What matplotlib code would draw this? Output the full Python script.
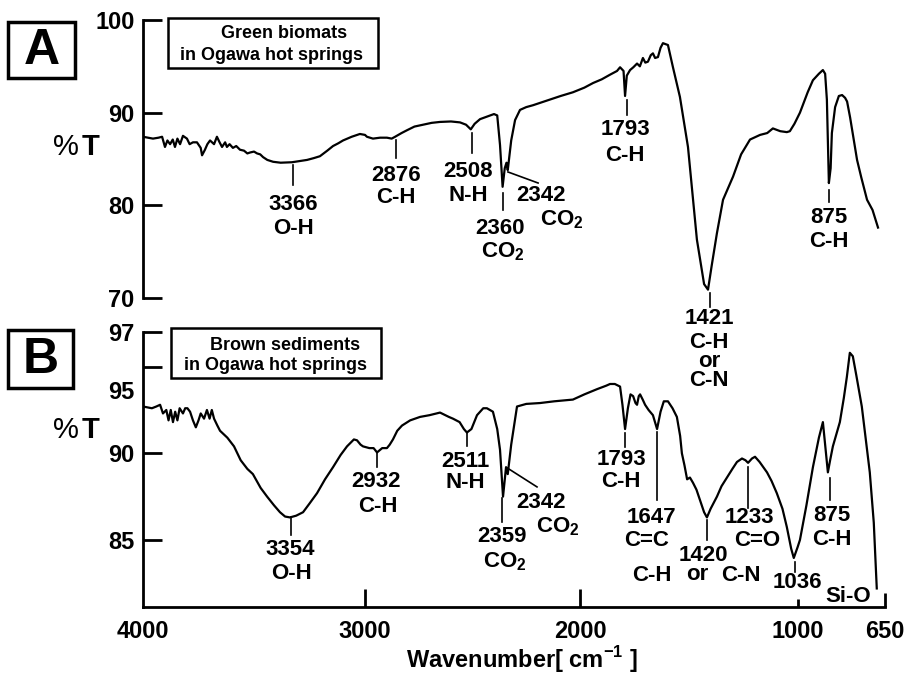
import numpy as np
import matplotlib.pyplot as plt
from matplotlib.patches import Rectangle
from matplotlib.transforms import ScaledTranslation

plt.rcParams['font.family'] = ['Liberation Sans', 'DejaVu Sans']
plt.rcParams['mathtext.fontset'] = 'custom'
plt.rcParams['mathtext.rm'] = 'Liberation Sans'
plt.rcParams['mathtext.bf'] = 'Liberation Sans:bold'

# ---- spectrum A: green biomats (wavenumber, %T) ----
WN_A = [4000, 3955, 3930, 3914, 3901, 3890, 3878, 3866, 3856, 3845, 3833, 3820,
        3802, 3790, 3775, 3757, 3740, 3734, 3721, 3710, 3698, 3680, 3667, 3655,
        3644, 3630, 3622, 3610, 3595, 3580, 3563, 3545, 3530, 3518, 3500, 3486,
        3472, 3459, 3440, 3414, 3380, 3329, 3290, 3261, 3230, 3203, 3170, 3144,
        3120, 3099, 3060, 3023, 3000, 2991, 2963, 2930, 2898, 2876, 2860, 2830,
        2805, 2770, 2730, 2690, 2651, 2600, 2558, 2530, 2508, 2490, 2465, 2430,
        2400, 2385, 2372, 2360, 2350, 2342, 2336, 2320, 2302, 2279, 2250, 2219,
        2180, 2140, 2090, 2033, 1980, 1940, 1900, 1862, 1830, 1816, 1800, 1793,
        1785, 1770, 1755, 1738, 1725, 1711, 1700, 1688, 1675, 1665, 1655, 1642,
        1630, 1619, 1596, 1573, 1541, 1504, 1463, 1430, 1412, 1395, 1371, 1343,
        1297, 1260, 1219, 1173, 1140, 1114, 1080, 1050, 1036, 1015, 991, 960,
        939, 915, 899, 890, 883, 875, 868, 863, 850, 835, 822, 810, 802, 790,
        762, 745, 722, 700, 678]
T_A = [87.4, 87.2, 87.3, 87.4, 86.3, 87.0, 86.6, 87.1, 86.3, 87.2, 86.6, 87.5,
       87.2, 86.6, 86.8, 86.8, 86.2, 85.4, 86.0, 86.6, 87.0, 86.6, 87.4, 86.8,
       86.3, 86.8, 86.3, 86.6, 86.2, 86.4, 86.0, 85.9, 85.6, 85.7, 85.8, 85.6,
       85.5, 85.2, 84.9, 84.7, 84.6, 84.65, 84.8, 84.9, 85.1, 85.3, 85.9, 86.4,
       86.7, 87.0, 87.4, 87.7, 87.6, 87.4, 87.2, 87.3, 87.3, 87.2, 87.4, 87.8,
       88.1, 88.5, 88.7, 88.9, 89.0, 89.05, 88.95, 88.7, 88.2, 88.8, 89.3, 89.6,
       89.85, 89.7, 86.5, 82.0, 84.0, 84.6, 83.8, 87.0, 89.2, 90.3, 90.6, 90.8,
       91.1, 91.4, 91.8, 92.2, 92.7, 93.2, 93.6, 94.1, 94.5, 94.9, 94.5, 91.8,
       94.0, 94.6, 94.9, 95.3, 95.0, 95.9, 95.4, 95.5, 96.2, 96.4, 95.9, 96.0,
       97.0, 97.5, 97.3, 94.9, 91.7, 86.3, 76.3, 71.5, 70.9, 73.5, 77.0, 80.6,
       83.1, 85.5, 87.1, 87.6, 87.8, 88.3, 88.0, 87.9, 88.0, 88.8, 90.0, 92.2,
       93.5, 94.2, 94.6, 94.2, 91.4, 82.4, 84.0, 87.8, 90.6, 91.8, 91.9, 91.6, 91.2, 89.5,
       84.9, 83.0, 80.6, 79.5, 77.6]

# ---- spectrum B: brown sediments ----
WN_B = [4000, 3960, 3940, 3923, 3910, 3895, 3885, 3875, 3865, 3855, 3845, 3835,
        3820, 3810, 3800, 3788, 3775, 3762, 3750, 3740, 3725, 3712, 3700, 3690,
        3680, 3665, 3653, 3620, 3590, 3560, 3530, 3505, 3470, 3441, 3410, 3383,
        3360, 3338, 3310, 3279, 3250, 3216, 3180, 3144, 3110, 3081, 3050, 3036,
        3020, 3009, 2980, 2960, 2944, 2920, 2898, 2885, 2870, 2850, 2828, 2790,
        2744, 2700, 2651, 2610, 2591, 2560, 2540, 2526, 2505, 2479, 2450, 2433,
        2405, 2385, 2372, 2358, 2350, 2344, 2336, 2320, 2293, 2250, 2186, 2120,
        2033, 1980, 1922, 1880, 1862, 1840, 1816, 1805, 1793, 1780, 1768, 1756,
        1745, 1738, 1730, 1724, 1712, 1701, 1685, 1665, 1646, 1630, 1615, 1596,
        1575, 1555, 1540, 1532, 1520, 1508, 1495, 1481, 1465, 1449, 1430, 1417,
        1400, 1371, 1350, 1325, 1300, 1279, 1256, 1240, 1228, 1210, 1196, 1175,
        1141, 1120, 1096, 1070, 1050, 1030, 1018, 1000, 991, 965, 939, 915, 899,
        890, 879, 870, 859, 831, 815, 803, 791, 779, 765, 743, 711, 695, 683]
T_B = [92.7, 92.6, 92.7, 92.8, 92.3, 92.5, 91.9, 92.5, 91.8, 92.4, 91.9, 92.6,
       92.3, 92.6, 92.6, 92.4, 91.9, 91.5, 91.9, 92.3, 92.0, 92.5, 92.0, 92.5,
       92.0, 91.6, 91.3, 90.9, 90.4, 89.6, 89.1, 88.8, 88.0, 87.5, 87.0, 86.6,
       86.35, 86.3, 86.4, 86.6, 87.1, 87.7, 88.5, 89.2, 89.9, 90.4, 90.8, 90.75,
       90.5, 90.4, 90.3, 90.3, 90.05, 90.3, 90.3, 90.5, 90.8, 91.3, 91.6, 91.9,
       92.1, 92.2, 92.35, 92.1, 92.0, 91.8, 91.4, 91.2, 91.4, 92.2, 92.6, 92.6,
       92.4, 91.4, 90.2, 87.5, 88.5, 89.2, 88.8, 90.5, 92.7, 92.85, 92.9, 93.0,
       93.1, 93.4, 93.7, 93.9, 94.0, 94.0, 93.85, 92.8, 91.4, 92.6, 93.4, 93.3,
       92.9, 92.8, 93.3, 93.4, 93.1, 92.8, 92.5, 92.2, 91.4, 92.4, 93.0, 93.0,
       92.6, 92.1, 91.0, 90.0, 89.3, 88.5, 88.6, 88.3, 87.9, 87.3, 86.6, 86.3,
       86.8, 87.5, 88.1, 88.6, 89.1, 89.5, 89.7, 89.6, 89.45, 89.7, 89.8, 89.5,
       88.9, 88.4, 87.7, 86.8, 85.75, 84.5, 83.96, 84.6, 85.0, 87.0, 89.2, 90.9, 91.8,
       90.5, 88.9, 89.6, 90.4, 91.8, 93.2, 94.4, 95.8, 95.6, 94.5, 92.7, 88.9, 86.0, 82.2]

# peak markers: (wavenumber, top %T, bottom %T)
MARKS_A = [(3324, 84.35, 82.2), (2856, 87.05, 85.1), (2502, 87.8, 85.65),
           (2358, 81.33, 79.5), (1784, 91.37, 89.75), (1403, 70.54, 69.03),
           (875, 81.66, 80.36)]
MARKS_B = [(3333, 86.33, 85.29), (2944, 90.03, 89.22), (2526, 91.24, 90.43),
           (2363, 87.43, 86.04), (1793, 91.18, 90.38), (1646, 91.24, 87.31),
           (1417, 86.16, 85.0), (1228, 89.22, 86.85), (1013, 83.73, 83.15),
           (871, 88.58, 87.31)]
CO2 = r'CO$_\mathbf{2}$'
LABELS_A = [("3366", 3324, 80.04), ("O-H", 3324, 77.55),
            ("2876", 2856, 83.27), ("C-H", 2856, 80.8),
            ("2508", 2521, 83.6), ("N-H", 2521, 81.1),
            ("2360", 2372, 77.55), (CO2, 2358, 74.97),
            ("2342", 2181, 81.1), (CO2, 2084, 78.42),
            ("1793", 1793, 88.13), ("C-H", 1793, 85.43),
            ("1421", 1408, 67.74), ("C-H\nor\nC-N", 1408, 63.15),
            ("875", 875, 78.74), ("C-H", 875, 76.15)]
LABELS_B = [("3354", 3338, 84.42), ("O-H", 3329, 83.09),
            ("2932", 2949, 88.35), ("C-H", 2940, 86.91),
            ("2511", 2535, 89.51), ("N-H", 2535, 88.29),
            ("2359", 2363, 85.17), (CO2, 2349, 83.73),
            ("2342", 2181, 87.14), (CO2, 2102, 85.75),
            ("1793", 1811, 89.62), ("C-H", 1811, 88.35),
            ("1647", 1674, 86.27), ("C=C", 1692, 84.94), ("C-H", 1669, 82.92),
            ("1420", 1435, 84.13), ("or", 1460, 82.98), ("C-N", 1261, 82.92),
            ("1233", 1224, 86.27), ("C=O", 1187, 84.94),
            ("1036", 1003, 82.57), ("Si-O", 798, 81.76),
            ("875", 863, 86.39), ("C-H", 863, 85.0)]
LEADER_A = ((2335, 2195), (83.6, 82.41))
LEADER_B = ((2339, 2200), (89.16, 88.06))

X_TICKS = [4000, 3000, 2000, 1000, 650]
X_TICK_LEN = [0, 13, 13, 6, 10]
YTICKS_A = [100, 90, 80, 70]
YTICKS_B = [97, 95, 90, 85]

# the printed wavenumber axis is not uniform (last section is stretched)
WN_ANCH = np.array([650, 1000, 2000, 3000, 4000], float)
POS_ANCH = np.array([0, 87.3, 305, 520, 742], float)


def _pw(v, xa, ya):
    v = np.asarray(v, float)
    out = np.interp(v, xa, ya)
    lo = v < xa[0]
    hi = v > xa[-1]
    out = np.where(lo, ya[0] + (v - xa[0]) * (ya[1] - ya[0]) / (xa[1] - xa[0]), out)
    out = np.where(hi, ya[-1] + (v - xa[-1]) * (ya[-1] - ya[-2]) / (xa[-1] - xa[-2]), out)
    return out


def fwd(v):
    return _pw(v, WN_ANCH, POS_ANCH)


def inv(v):
    return _pw(v, POS_ANCH, WN_ANCH)


W, H = 909, 675
fig = plt.figure(figsize=(W / 100, H / 100), dpi=100)


def rect(l, t, r, b):
    return [l / W, 1 - b / H, (r - l) / W, (b - t) / H]


def ftext(x, y, s, **kw):
    fig.text(x / W, 1 - y / H, s, ha='center', va='center', **kw)


def fbox(l, t, r, b, lw):
    fig.add_artist(Rectangle((l / W, 1 - b / H), (r - l) / W, (b - t) / H,
                             transform=fig.transFigure, fill=False, lw=lw, ec='black'))


def setup(ax, ylim, yticks):
    ax.set_xscale('function', functions=(fwd, inv))
    ax.set_xlim(4000, 650)
    ax.set_ylim(*ylim)
    for s in ['top', 'right']:
        ax.spines[s].set_visible(False)
    for s in ['left', 'bottom']:
        ax.spines[s].set_linewidth(2)
    ax.set_yticks(yticks, [str(t) for t in yticks], fontweight='bold')
    ax.tick_params(axis='y', direction='in', length=14, width=2, labelsize=17, pad=6)
    ax.set_facecolor('none')


def annotate(ax, marks, labels, leader):
    for wn, y1, y2 in marks:
        ax.plot([wn, wn], [y1, y2], color='black', lw=1.2, clip_on=False)
    ax.plot(leader[0], leader[1], color='black', lw=1.2, clip_on=False)
    for s, wn, y in labels:
        ax.text(wn, y, s, ha='center', va='center', fontsize=16,
                fontweight='bold', linespacing=0.85, clip_on=False)


# panel A
axA = fig.add_axes(rect(143, 20, 885, 298))
setup(axA, (70, 100), YTICKS_A)
axA.spines['bottom'].set_visible(False)
axA.set_xticks([])
axA.plot(WN_A, T_A, color='black', lw=1.6)
annotate(axA, MARKS_A, LABELS_A, LEADER_A)

# panel B
axB = fig.add_axes(rect(143, 332, 885, 607))
setup(axB, (81.13, 97), YTICKS_B)
axB.plot(WN_B, T_B, color='black', lw=1.6)
annotate(axB, MARKS_B, LABELS_B, LEADER_B)
axB.set_xticks(X_TICKS, [str(t) for t in X_TICKS], fontweight='bold')
axB.tick_params(axis='x', direction='in', width=2, labelsize=17, pad=9)
for tk, L in zip(axB.xaxis.get_major_ticks(), X_TICK_LEN):
    tk.tick1line.set_markersize(L)
# the "95" label sits a little below its tick in the original
lbl95 = axB.get_yticklabels()[1]
lbl95.set_transform(lbl95.get_transform() + ScaledTranslation(0, -0.23, fig.dpi_scale_trans))

ftext(522, 660, r'Wavenumber[ cm$^{\mathbf{-1}}$ ]', fontsize=17, fontweight='bold')

# %T axis labels
for yc in (147, 430):
    ftext(66, yc, '%', fontsize=21)
    ftext(91, yc, 'T', fontsize=21, fontweight='bold')

# panel letters
fbox(8, 22, 75, 78, 2.5)
ftext(41.5, 51, 'A', fontsize=36, fontweight='bold')
fbox(8, 330, 73, 388, 2.5)
ftext(40.5, 360, 'B', fontsize=36, fontweight='bold')

# sample boxes
fbox(168, 18, 378, 68, 1.8)
ftext(284, 33, 'Green biomats', fontsize=13, fontweight='bold')
ftext(272, 55, 'in Ogawa hot springs', fontsize=13, fontweight='bold')
fbox(171, 328, 381, 378, 1.8)
ftext(285, 345, 'Brown sediments', fontsize=13, fontweight='bold')
ftext(276, 365, 'in Ogawa hot springs', fontsize=13, fontweight='bold')

fig.savefig('out.png', dpi=100)
